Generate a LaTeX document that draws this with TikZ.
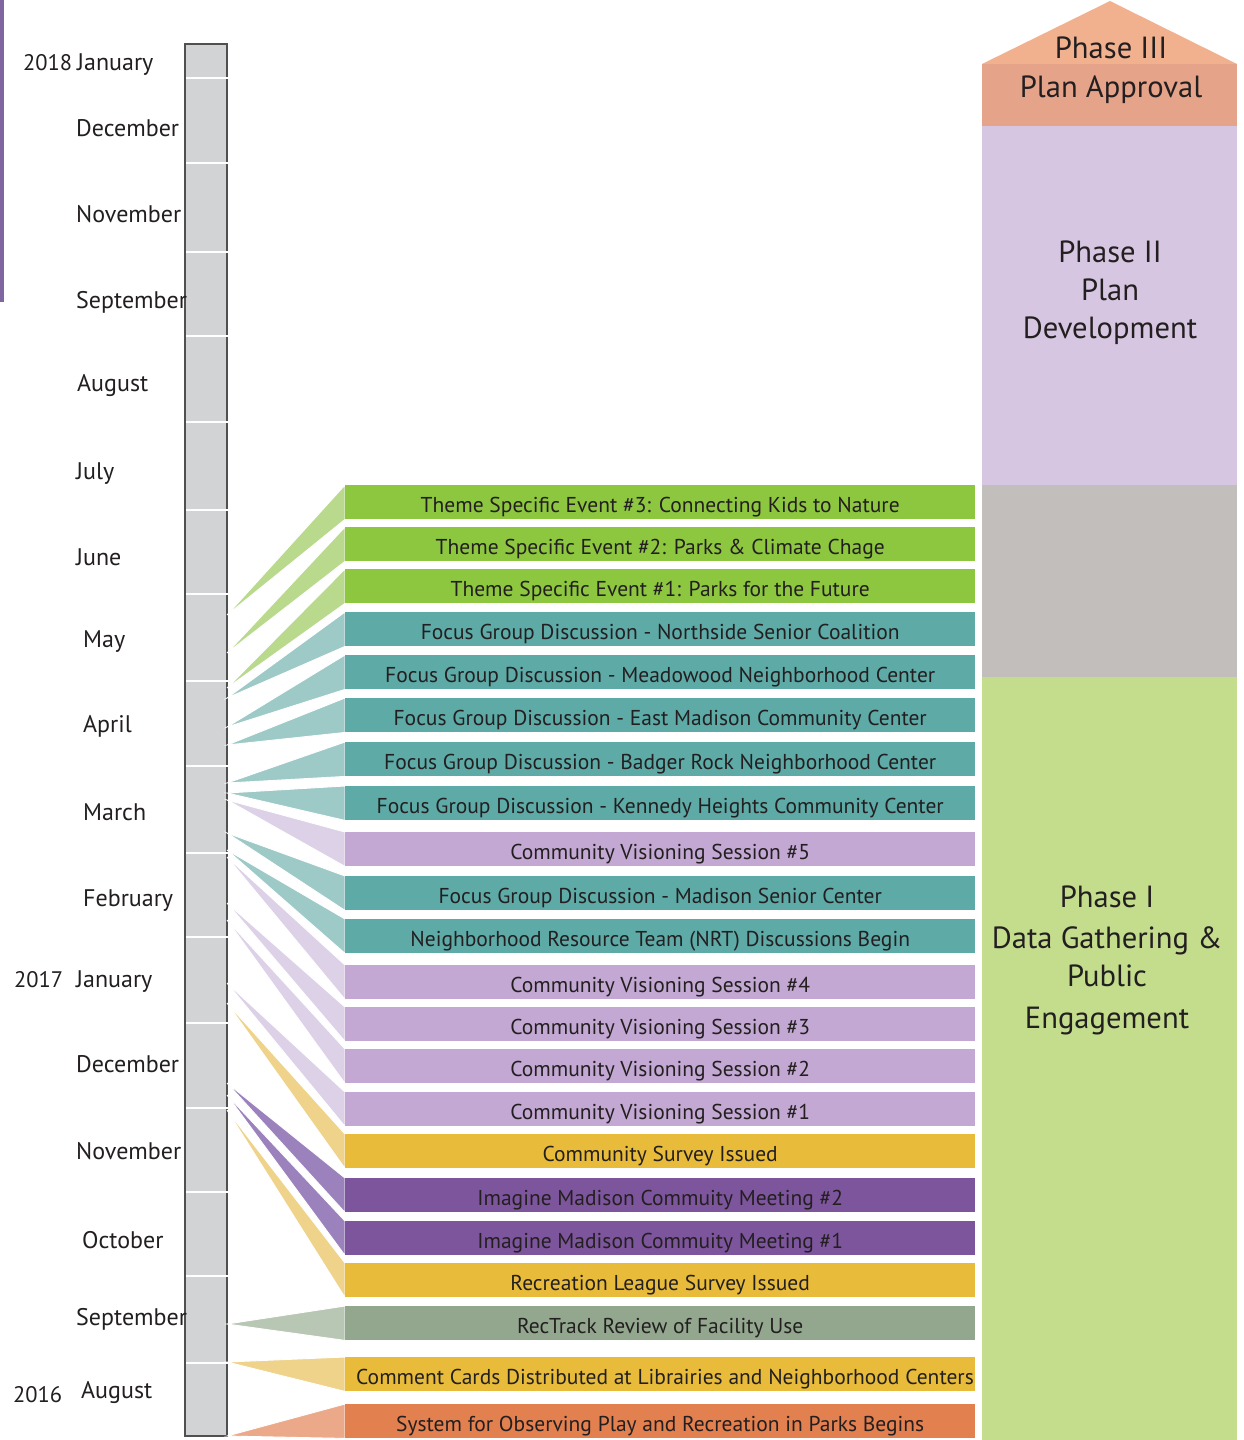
\documentclass[tikz,border=0pt]{standalone}
\usepackage{fontspec}
\setmainfont{PT Sans}
\definecolor{txt}{HTML}{231F20}
\definecolor{strip}{HTML}{8066A0}
\definecolor{tlfill}{HTML}{D1D3D4}
\definecolor{tlline}{HTML}{505050}
\definecolor{gBar}{HTML}{8DC63F}\definecolor{gW}{HTML}{B9D98C}
\definecolor{tBar}{HTML}{5DAAA7}\definecolor{tW}{HTML}{9DC9C6}
\definecolor{lBar}{HTML}{C2A8D2}\definecolor{lW}{HTML}{DDD1E8}
\definecolor{yBar}{HTML}{E8BC3A}\definecolor{yW}{HTML}{EFD38A}
\definecolor{pBar}{HTML}{7D559D}\definecolor{pW}{HTML}{9B82BC}
\definecolor{sBar}{HTML}{93A78F}\definecolor{sW}{HTML}{B8C6B4}
\definecolor{oBar}{HTML}{E2804F}\definecolor{oW}{HTML}{ECA98A}
\definecolor{p3a}{HTML}{F1B18F}\definecolor{p3b}{HTML}{E5A38A}
\definecolor{p2}{HTML}{D6C6E1}\definecolor{pg}{HTML}{C2BEBB}\definecolor{p1}{HTML}{C4DD8D}
\begin{document}
\begin{tikzpicture}[x=1pt,y=-1pt,
  evbar/.style={minimum width=630pt, minimum height=34pt, inner sep=0pt, text height=20pt, text depth=0pt,
    font=\fontsize{21.5}{21.5}\selectfont, text=txt, anchor=north west},
  wedgeshape/.style={draw=white, line width=0.9pt, line join=miter},
  month/.style={anchor=base west, inner sep=0pt, text=txt, font=\fontsize{24}{24}\selectfont},
  yearlbl/.style={anchor=base west, inner sep=0pt, text=txt, font=\fontsize{22.5}{22.5}\selectfont},
  phasetxt/.style={anchor=base, inner sep=0pt, text=txt, font=\fontsize{30.6}{30.6}\selectfont},
]
\useasboundingbox (0,0) rectangle (1243,1440);
\fill[white] (0,0) rectangle (1243,1440);
\fill[strip] (0,0) rectangle (4,302);

% timeline
\draw[fill=tlfill, draw=tlline, line width=1.6pt] (185,44) rectangle (227,1436);
\foreach \yy in {78,163,252,336,422,510,594,681,766,853,937,1023,1108,1192,1276,1363}
  \draw[white, line width=2pt] (186,\yy) -- (228,\yy);

% month labels
\node[yearlbl] (y18) at (23,70) {2018};
\node[month] (m1) at (77,70) {January};
\node[month] (m2) at (76,136) {December};
\node[month] (m3) at (76,222) {November};
\node[month] (m4) at (76,308) {September};
\node[month] (m5) at (77,391) {August};
\node[month] (m6) at (76,479) {July};
\node[month] (m7) at (76,565) {June};
\node[month] (m8) at (83,647) {May};
\node[month] (m9) at (83,732) {April};
\node[month] (m10) at (83,820) {March};
\node[month] (m11) at (83,906) {February};
\node[yearlbl] (y17) at (14,987) {2017};
\node[month] (m12) at (76,987) {January};
\node[month] (m13) at (76,1072) {December};
\node[month] (m14) at (76,1159) {November};
\node[month] (m15) at (82,1248) {October};
\node[month] (m16) at (76,1325) {September};
\node[yearlbl] (y16) at (13,1402) {2016};
\node[month] (m17) at (81,1398) {August};

% wedge tips
\foreach \n/\ty in {1/615,2/653,3/688,4/698,5/727,6/745,7/783,8/793,9/800,10/833,11/850,12/857,13/903,14/920,15/983,16/1003,17/1083,18/1095,19/1110,20/1324,21/1362,22/1436}
  \coordinate (t\n) at (227,\ty);

% bars (named nodes)
\path
  node[evbar] (e1) at (345,485) {}
  node[evbar] (e2) at (345,527) {}
  node[evbar] (e3) at (345,569) {}
  node[evbar] (e4) at (345,612) {}
  node[evbar] (e5) at (345,655) {}
  node[evbar] (e6) at (345,698) {}
  node[evbar] (e7) at (345,742) {}
  node[evbar] (e8) at (345,786) {}
  node[evbar] (e9) at (345,832) {}
  node[evbar] (e10) at (345,876) {}
  node[evbar] (e11) at (345,919) {}
  node[evbar] (e12) at (345,965) {}
  node[evbar] (e13) at (345,1007) {}
  node[evbar] (e14) at (345,1049) {}
  node[evbar] (e15) at (345,1092) {}
  node[evbar] (e16) at (345,1134) {}
  node[evbar] (e17) at (345,1178) {}
  node[evbar] (e18) at (345,1221) {}
  node[evbar] (e19) at (345,1263) {}
  node[evbar] (e20) at (345,1306) {}
  node[evbar] (e21) at (345,1357) {}
  node[evbar] (e22) at (345,1404) {};

% wedges
\foreach \n/\c in {1/gW,2/gW,3/gW,4/tW,5/tW,6/tW,7/tW,8/tW,9/lW,10/tW,11/tW,12/lW,13/lW,14/lW,15/lW,16/yW,17/pW,18/pW,19/yW,20/sW,21/yW,22/oW}
  \filldraw[wedgeshape, fill=\c] (t\n) -- (e\n.north west) -- (e\n.south west) -- cycle;

% bar fills with text
\node[evbar, fill=gBar] at (e1.north west) {Theme Specific Event \#3: Connecting Kids to Nature};
\node[evbar, fill=gBar] at (e2.north west) {Theme Specific Event \#2: Parks \& Climate Chage};
\node[evbar, fill=gBar] at (e3.north west) {Theme Specific Event \#1: Parks for the Future};
\node[evbar, fill=tBar] at (e4.north west) {Focus Group Discussion - Northside Senior Coalition};
\node[evbar, fill=tBar] at (e5.north west) {Focus Group Discussion - Meadowood Neighborhood Center};
\node[evbar, fill=tBar] at (e6.north west) {Focus Group Discussion - East Madison Community Center};
\node[evbar, fill=tBar] at (e7.north west) {Focus Group Discussion - Badger Rock Neighborhood Center};
\node[evbar, fill=tBar] at (e8.north west) {Focus Group Discussion - Kennedy Heights Community Center};
\node[evbar, fill=lBar] at (e9.north west) {Community Visioning Session \#5};
\node[evbar, fill=tBar] at (e10.north west) {Focus Group Discussion - Madison Senior Center};
\node[evbar, fill=tBar] at (e11.north west) {Neighborhood Resource Team (NRT) Discussions Begin};
\node[evbar, fill=lBar] at (e12.north west) {Community Visioning Session \#4};
\node[evbar, fill=lBar] at (e13.north west) {Community Visioning Session \#3};
\node[evbar, fill=lBar] at (e14.north west) {Community Visioning Session \#2};
\node[evbar, fill=lBar] at (e15.north west) {Community Visioning Session \#1};
\node[evbar, fill=yBar] at (e16.north west) {Community Survey Issued};
\node[evbar, fill=pBar] at (e17.north west) {Imagine Madison Commuity Meeting \#2};
\node[evbar, fill=pBar] at (e18.north west) {Imagine Madison Commuity Meeting \#1};
\node[evbar, fill=yBar] at (e19.north west) {Recreation League Survey Issued};
\node[evbar, fill=sBar] at (e20.north west) {RecTrack Review of Facility Use};
\node[evbar, fill=yBar] at (e21.north west) {};
\node[anchor=base, inner sep=0pt, text=txt, font=\fontsize{21.5}{21.5}\selectfont] (cc) at (665,1384) {Comment Cards Distributed at Librairies and Neighborhood Centers};
\node[evbar, fill=oBar] at (e22.north west) {System for Observing Play and Recreation in Parks Begins};

% phase column
\fill[p3a] (982,64) -- (1110,1) -- (1237,64) -- cycle;
\fill[p3b] (982,64) rectangle (1237,126);
\fill[p2] (982,126) rectangle (1237,485);
\fill[pg] (982,485) rectangle (1237,677);
\fill[p1] (982,677) rectangle (1237,1440);
\node[phasetxt] (ph3a) at (1111,58) {Phase III};
\node[phasetxt] (ph3b) at (1111,97) {Plan Approval};
\node[phasetxt] (ph2a) at (1110,262) {Phase II};
\node[phasetxt] (ph2b) at (1110,300) {Plan};
\node[phasetxt] (ph2c) at (1110,338) {Development};
\node[phasetxt] (ph1a) at (1107,907) {Phase I};
\node[phasetxt] (ph1b) at (1107,948) {Data Gathering \&};
\node[phasetxt] (ph1c) at (1107,986) {Public};
\node[phasetxt] (ph1d) at (1107,1028) {Engagement};
\end{tikzpicture}
\end{document}
